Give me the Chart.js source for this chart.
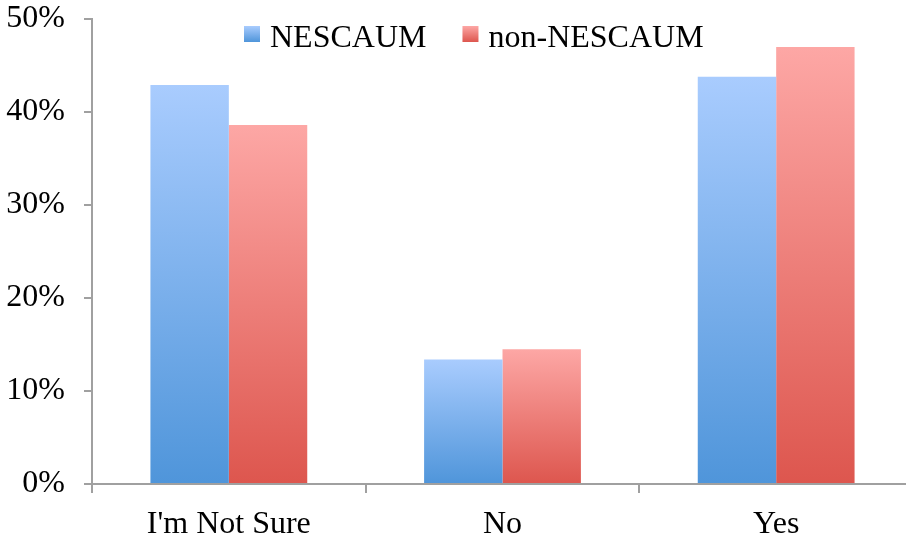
<!DOCTYPE html>
<html>
<head>
<meta charset="utf-8">
<script src="https://cdn.jsdelivr.net/npm/chart.js@4/dist/chart.umd.min.js"></script>
<style>
  html, body { margin: 0; padding: 0; background: #fff; overflow: hidden; }
  #wrap { width: 913px; height: 539px; position: relative; }
</style>
</head>
<body>
<div id="wrap"><canvas id="c" width="913" height="539"></canvas></div>
<script>
// Survey answers, share of respondents (%)
const categories = ["I'm Not Sure", "No", "Yes"];
const nescaum = [42.9, 13.4, 43.8];
const nonNescaum = [38.6, 14.5, 47.0];
const seriesNames = ["NESCAUM", "non-NESCAUM"];
const yTicks = [0, 10, 20, 30, 40, 50];

const FONT = "'Liberation Serif', 'Times New Roman', serif";
const FONT_SIZE = 32;
const AXIS = '#a0a0a0';
const palette = {
  blue: { top: '#a9ccfe', bottom: '#4f95da' },
  red:  { top: '#fda7a5', bottom: '#dd564e' }
};

// Vertical gradient for each bar, light at its top, deep at its base
function barGradient(pal) {
  return (ctx) => {
    const chart = ctx.chart;
    const area = chart.chartArea;
    if (!area || ctx.type !== 'data') return pal.bottom;
    const y = chart.scales.y;
    const top = y.getPixelForValue(ctx.parsed.y);
    const base = y.getPixelForValue(0);
    const g = chart.ctx.createLinearGradient(0, top, 0, base);
    g.addColorStop(0, pal.top);
    g.addColorStop(1, pal.bottom);
    return g;
  };
}

// Legend in the upper part of the plot
const legendPlugin = {
  id: 'topLegend',
  afterDraw(chart) {
    const c = chart.ctx;
    c.save();
    c.font = FONT_SIZE + 'px ' + FONT;
    c.textBaseline = 'alphabetic';
    const pals = [palette.blue, palette.red];
    let x = 244;
    const sy = 26;
    seriesNames.forEach((name, i) => {
      const g = c.createLinearGradient(0, sy, 0, sy + 16);
      g.addColorStop(0, pals[i].top);
      g.addColorStop(1, pals[i].bottom);
      c.fillStyle = g;
      c.fillRect(x, sy, 16, 16);
      c.fillStyle = '#000';
      c.fillText(name, x + 26, 47);
      x += 26 + c.measureText(name).width + 36;
    });
    c.restore();
  }
};

new Chart(document.getElementById('c'), {
  type: 'bar',
  data: {
    labels: categories,
    datasets: [
      { label: seriesNames[0], data: nescaum, backgroundColor: barGradient(palette.blue), borderWidth: 0 },
      { label: seriesNames[1], data: nonNescaum, backgroundColor: barGradient(palette.red), borderWidth: 0 }
    ]
  },
  options: {
    responsive: false,
    animation: false,
    devicePixelRatio: 1,
    layout: { padding: 0 },
    datasets: { bar: { categoryPercentage: 0.573, barPercentage: 1.0 } },
    plugins: {
      legend: { display: false },
      tooltip: { enabled: false }
    },
    scales: {
      x: {
        offset: true,
        grid: { offset: true, drawOnChartArea: false, color: AXIS, lineWidth: 2, tickLength: 9 },
        border: { color: AXIS, width: 2 },
        ticks: { color: '#000', font: { family: FONT, size: FONT_SIZE }, padding: 12, maxRotation: 0 },
        afterFit(scale) { scale.height = 55; }
      },
      y: {
        min: 0,
        max: 50,
        afterBuildTicks(scale) { scale.ticks = yTicks.map(v => ({ value: v })); },
        grid: { drawOnChartArea: false, color: AXIS, lineWidth: 2, tickLength: 8 },
        border: { color: AXIS, width: 2 },
        ticks: {
          color: '#000',
          font: { family: FONT, size: FONT_SIZE },
          padding: 19,
          callback: (v) => v + '%'
        },
        afterFit(scale) {
          scale.width = 92;
          scale.paddingTop = 19;
          scale.paddingBottom = 0;
        }
      }
    }
  },
  plugins: [legendPlugin]
});
</script>
</body>
</html>
